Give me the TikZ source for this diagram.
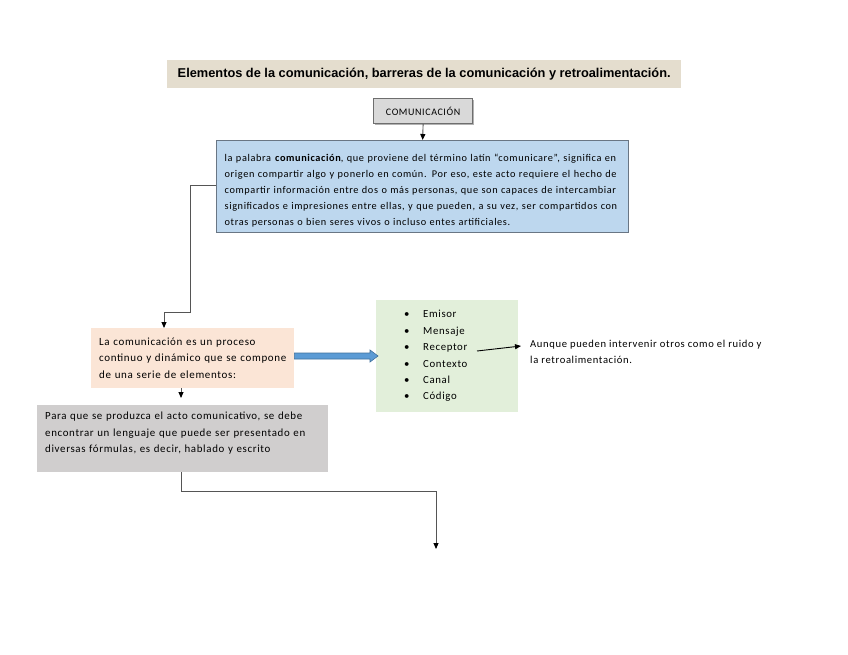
\documentclass[tikz,border=0pt]{standalone}
\usepackage{fontspec}
\setmainfont{Carlito}[LetterSpace=6]
\newfontfamily\titlefont{Liberation Sans}
\usetikzlibrary{arrows.meta,calc}
\definecolor{titlebg}{RGB}{228,221,206}
\definecolor{commfill}{RGB}{217,217,217}
\definecolor{commedge}{RGB}{110,110,110}
\definecolor{bluefill}{RGB}{189,215,238}
\definecolor{blueedge}{RGB}{105,118,132}
\definecolor{peachfill}{RGB}{251,229,214}
\definecolor{grayfill}{RGB}{208,206,206}
\definecolor{greenfill}{RGB}{226,239,218}
\definecolor{arrowblue}{RGB}{91,155,213}
\definecolor{arrowedge}{RGB}{65,113,156}
\definecolor{conn}{RGB}{85,85,85}
\tikzset{
  tip/.style={-{Triangle[length=6pt,width=5pt,color=black]}, draw=conn, line width=0.9pt},
}
\begin{document}
\begin{tikzpicture}[x=1pt,y=-1pt]
\useasboundingbox (0,0) rectangle (848,655);
\fill[white] (0,0) rectangle (848,655);

% title
\node[fill=titlebg, minimum width=514pt, minimum height=28pt, anchor=north west, inner sep=0pt,
      font=\titlefont\bfseries\fontsize{12.8}{14}\selectfont] (title) at (167,60)
  {Elementos de la comunicación, barreras de la comunicación y retroalimentación.};

% COMUNICACION
\fill[gray!60] (375,100) rectangle (474,125);
\node[fill=commfill, draw=commedge, line width=1.2pt, minimum width=99pt, minimum height=25pt,
      anchor=north west, inner sep=0pt, font=\fontsize{10}{11}\selectfont] (comm) at (373,98)
  {COMUNICACIÓN};

% blue box
\node[fill=bluefill, draw=blueedge, line width=1.3pt, minimum width=412pt, minimum height=92pt,
      anchor=north west, inner xsep=8pt, inner ysep=0pt, text width=396pt, align=left,
      font=\fontsize{10.3}{16.1}\selectfont] (def) at (216,140)
  {\rule{0pt}{15pt}la palabra \textbf{comunicación}, que proviene del término latín “comunicare”, significa en\\
   origen compartir algo y ponerlo en común. Por eso, este acto requiere el hecho de\\
   compartir información entre dos o más personas, que son capaces de intercambiar\\
   significados e impresiones entre ellas, y que pueden, a su vez, ser compartidos con\\
   otras personas o bien seres vivos o incluso entes artificiales.};

% peach box
\node[fill=peachfill, minimum width=203pt, minimum height=60pt, anchor=north west,
      inner xsep=6pt, inner ysep=0pt, text width=191pt, align=left,
      font=\fontsize{11}{16.5}\selectfont] (proc) at (91,328)
  {\hspace{2pt}La comunicación es un proceso\\\hspace*{2pt}continuo y dinámico que se compone\\\hspace*{2pt}de una serie de elementos:};

% gray box
\node[fill=grayfill, minimum width=291pt, minimum height=67pt, anchor=north west,
      inner xsep=8pt, inner ysep=0pt, text width=275pt, align=left,
      font=\fontsize{10.9}{16.5}\selectfont] (lang) at (37,405)
  {Para que se produzca el acto comunicativo, se debe\\encontrar un lenguaje que puede ser presentado en\\diversas fórmulas, es decir, hablado y escrito\\[-4pt]\mbox{}};

% green box
\node[fill=greenfill, minimum width=142pt, minimum height=112pt, anchor=north west,
      inner xsep=28pt, inner ysep=0pt, text width=86pt, align=left,
      font=\fontsize{10.8}{16.4}\selectfont] (elem) at (376,300)
  {\makebox[19pt][l]{\textbullet}Emisor\\
   \makebox[19pt][l]{\textbullet}Mensaje\\
   \makebox[19pt][l]{\textbullet}Receptor\\
   \makebox[19pt][l]{\textbullet}Contexto\\
   \makebox[19pt][l]{\textbullet}Canal\\
   \makebox[19pt][l]{\textbullet}Código};

% note
\node[anchor=north west, inner sep=0pt, align=left, font=\fontsize{10.6}{15.5}\selectfont] (note) at (530,340)
  {Aunque pueden intervenir otros como el ruido y\\la retroalimentación.};

% connectors
\draw[tip] (comm.south) -- (def.north);
\coordinate (k1) at (190,185);
\coordinate (k2) at (190,312);
\coordinate (k3) at (164,312);
\draw[tip] (def.west |- k1) -- (k1) -- (k2) -- (k3) -- (k3 |- proc.north);
\coordinate (p1) at (181,388);
\coordinate (p2) at (181,398);
\draw[tip] (p1) -- (p2);
\coordinate (g1) at (181,491);
\coordinate (g2) at (436,491);
\coordinate (gend) at (436,549);
\draw[tip] (g1 |- lang.south) -- (g1) -- (g2) -- (gend);
\coordinate (r1) at (477,351);
\coordinate (r2) at (521,346);
\draw[tip, draw=black] (r1) -- (r2);

% thick blue arrow
\draw[fill=arrowblue, draw=arrowedge, line width=0.6pt]
  ($(proc.east |- 0,353)$) -- (370,353) -- (370,350) -- (378,356) -- (370,362) -- (370,359) -- ($(proc.east |- 0,359)$) -- cycle;
\end{tikzpicture}
\end{document}
